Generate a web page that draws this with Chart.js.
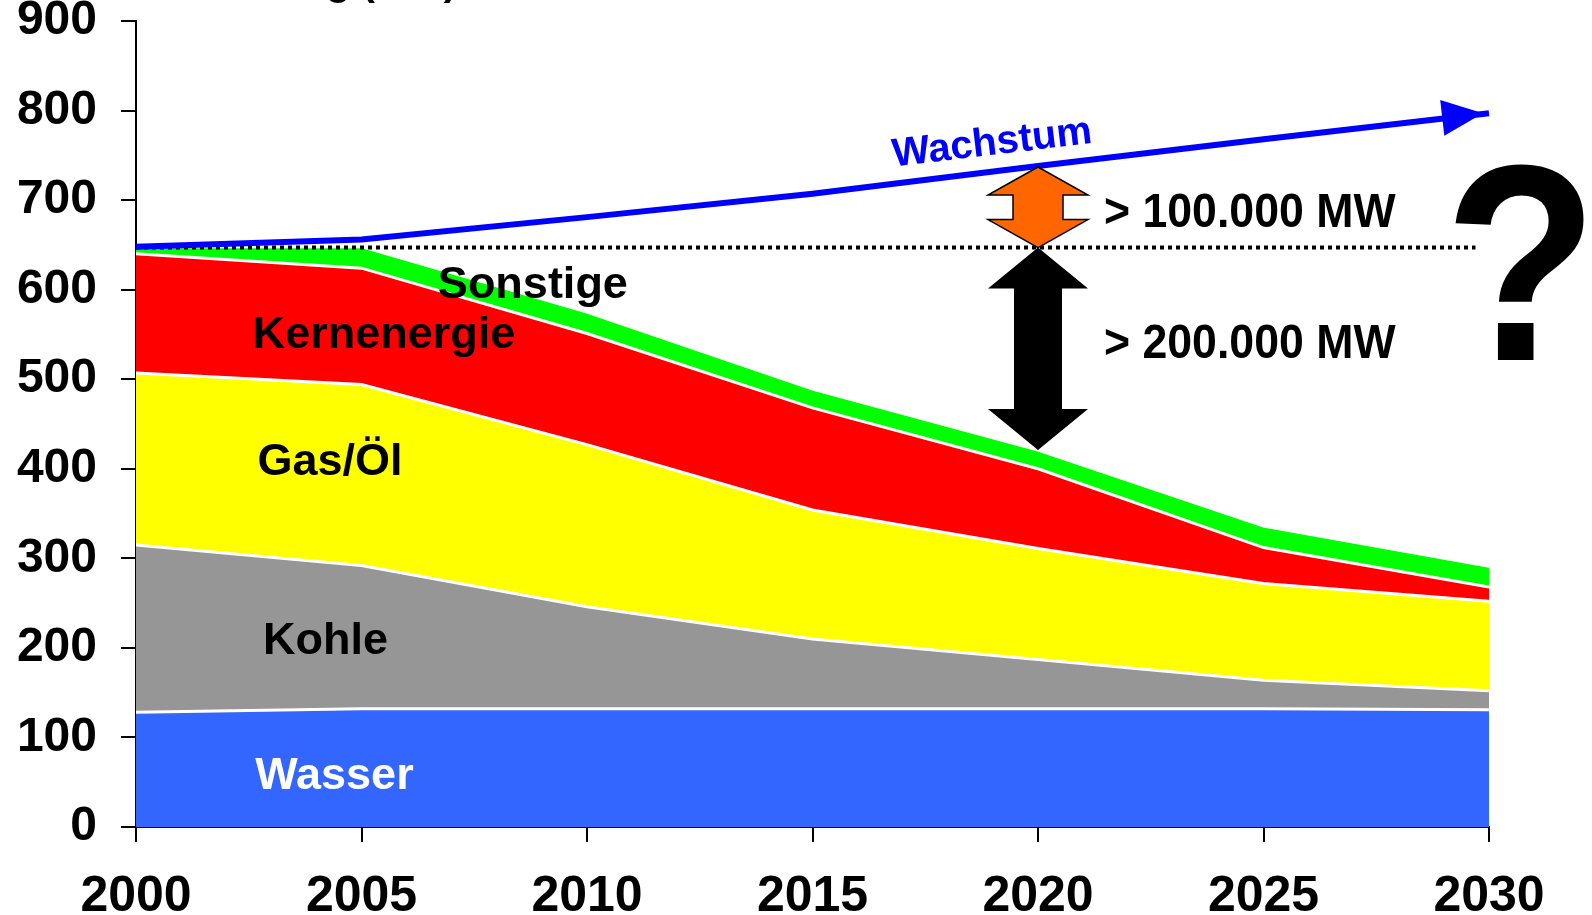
<!DOCTYPE html>
<html>
<head>
<meta charset="utf-8">
<script src="https://cdn.jsdelivr.net/npm/chart.js@4"></script>
<style>
    html, body { margin: 0; padding: 0; background: #fff; }
    canvas { display: block; }
</style>
</head>
<body>
<canvas id="myChart" width="1592" height="915"></canvas>
<script>
// values (GW)
const YEARS = [2000, 2005, 2010, 2015, 2020, 2025, 2030];
const WASSER = [128, 132, 132, 132, 132, 132, 131];
const KOHLE = [187, 160, 114, 78, 55, 32, 21];
const GAS_OEL = [192, 202, 181, 144, 124, 108, 100];
const KERNENERGIE = [133, 130, 124, 114, 89, 40, 16];
const SONSTIGE = [8, 24, 24, 21, 21, 24, 23];
const WACHSTUM = [648, 656, 681, 707, 738, 768, 797];
const REF_YEARS = [2000, 2029.7];
const REF_VALUES = [647, 647];
const Y_TICKS = [0, 100, 200, 300, 400, 500, 600, 700, 800, 900];
const X_TICKS = [2000, 2005, 2010, 2015, 2020, 2025, 2030];
const GAP_YEAR = 2020;
const GAP_GROWTH = [647, 737];   // orange arrow
const GAP_DEFICIT = [421, 647];  // black arrow

const FONT = '"Liberation Sans", Arial, Helvetica, sans-serif';
const BLUE = '#0000ff';

function points(xs, ys) {
    return xs.map((x, i) => ({ x: x, y: ys[i] }));
}

function area(label, values, color, fill) {
    return {
        label: label,
        data: points(YEARS, values),
        backgroundColor: color,
        borderColor: '#ffffff',
        borderWidth: 3,
        fill: fill,
        pointRadius: 0,
        tension: 0
    };
}

function doubleArrow(ctx, cx, top, bottom, headW, shaftW, headLen) {
    ctx.beginPath();
    ctx.moveTo(cx, top);
    ctx.lineTo(cx + headW / 2, top + headLen);
    ctx.lineTo(cx + shaftW / 2, top + headLen);
    ctx.lineTo(cx + shaftW / 2, bottom - headLen);
    ctx.lineTo(cx + headW / 2, bottom - headLen);
    ctx.lineTo(cx, bottom);
    ctx.lineTo(cx - headW / 2, bottom - headLen);
    ctx.lineTo(cx - shaftW / 2, bottom - headLen);
    ctx.lineTo(cx - shaftW / 2, top + headLen);
    ctx.lineTo(cx - headW / 2, top + headLen);
    ctx.closePath();
}

function text(ctx, str, px, py, size, color, align, sx) {
    ctx.save();
    ctx.translate(px, py);
    ctx.scale(sx || 1, 1);
    ctx.font = 'bold ' + size + 'px ' + FONT;
    ctx.fillStyle = color;
    ctx.textAlign = align || 'center';
    ctx.textBaseline = 'middle';
    ctx.fillText(str, 0, 0);
    ctx.restore();
}

const annotations = {
    id: 'annotations',
    afterDatasetsDraw(chart) {
        const ctx = chart.ctx;
        const x = chart.scales.x, y = chart.scales.y;
        ctx.save();

        // arrow head on the growth line
        const n = WACHSTUM.length;
        const x1 = x.getPixelForValue(YEARS[n - 2]), y1 = y.getPixelForValue(WACHSTUM[n - 2]);
        const x2 = x.getPixelForValue(YEARS[n - 1]), y2 = y.getPixelForValue(WACHSTUM[n - 1]);
        const ang = Math.atan2(y2 - y1, x2 - x1);
        ctx.save();
        ctx.translate(x2 - 6, y2);
        ctx.rotate(ang);
        ctx.beginPath();
        ctx.moveTo(0, 0);
        ctx.lineTo(-41, -18);
        ctx.lineTo(-41, 18);
        ctx.closePath();
        ctx.fillStyle = BLUE;
        ctx.fill();
        ctx.restore();

        // "Wachstum" along the line
        const a = x.getPixelForValue(2015), b = y.getPixelForValue(707);
        const textAng = Math.atan2(y2 - b, x2 - a);
        ctx.save();
        ctx.translate(x.getPixelForValue(2018.98), y.getPixelForValue(763));
        ctx.rotate(textAng);
        text(ctx, 'Wachstum', 0, 0, 40, BLUE);
        ctx.restore();

        // gap arrows
        const cx = x.getPixelForValue(GAP_YEAR);
        doubleArrow(ctx, cx, y.getPixelForValue(GAP_DEFICIT[1]), y.getPixelForValue(GAP_DEFICIT[0]), 100, 48, 41);
        ctx.fillStyle = '#000';
        ctx.fill();
        doubleArrow(ctx, cx, y.getPixelForValue(GAP_GROWTH[1]), y.getPixelForValue(GAP_GROWTH[0]), 100, 50, 28);
        ctx.fillStyle = '#ff6600';
        ctx.fill();
        ctx.lineWidth = 1.5;
        ctx.strokeStyle = '#000';
        ctx.stroke();

        text(ctx, '> 100.000 MW', 1104, y.getPixelForValue(685), 48, '#000', 'left', 0.93);
        text(ctx, '> 200.000 MW', 1104, y.getPixelForValue(538), 48, '#000', 'left', 0.93);

        // series names
        text(ctx, 'Sonstige', x.getPixelForValue(2008.8), y.getPixelForValue(604), 45, '#000');
        text(ctx, 'Kernenergie', x.getPixelForValue(2005.5), y.getPixelForValue(549), 45, '#000');
        text(ctx, 'Gas/Öl', x.getPixelForValue(2004.3), y.getPixelForValue(407), 45, '#000');
        text(ctx, 'Kohle', x.getPixelForValue(2004.2), y.getPixelForValue(207), 45, '#000');
        text(ctx, 'Wasser', x.getPixelForValue(2004.4), y.getPixelForValue(56), 45, '#ffffff');

        // big question mark
        ctx.save();
        ctx.translate(1521, 360);
        ctx.scale(0.9, 1);
        ctx.font = 'bold 280px ' + FONT;
        ctx.fillStyle = '#000';
        ctx.textAlign = 'center';
        ctx.textBaseline = 'alphabetic';
        ctx.fillText('?', 0, 0);
        ctx.restore();

        // title, cut off at the top edge
        ctx.font = 'bold 40px ' + FONT;
        ctx.fillStyle = '#000';
        ctx.textAlign = 'right';
        ctx.textBaseline = 'alphabetic';
        ctx.fillText('Leistung (GW)', 457, -5);

        ctx.restore();
    }
};

new Chart(document.getElementById('myChart').getContext('2d'), {
    type: 'line',
    data: {
        datasets: [
            area('Wasser', WASSER, '#3366ff', 'origin'),
            area('Kohle', KOHLE, '#969696', '-1'),
            area('Gas/Öl', GAS_OEL, '#ffff00', '-1'),
            area('Kernenergie', KERNENERGIE, '#ff0000', '-1'),
            area('Sonstige', SONSTIGE, '#00ff00', '-1'),
            {
                label: 'Wachstum',
                data: points(YEARS, WACHSTUM),
                stack: 'growth',
                borderColor: BLUE,
                borderWidth: 6,
                fill: false,
                pointRadius: 0,
                clip: false,
                order: -2
            },
            {
                label: 'Stand 2000',
                data: points(REF_YEARS, REF_VALUES),
                stack: 'ref',
                borderColor: '#000',
                borderWidth: 4,
                borderDash: [4, 4],
                fill: false,
                pointRadius: 0,
                clip: false,
                order: -1
            }
        ]
    },
    options: {
        responsive: false,
        animation: false,
        layout: { padding: { top: 21, right: 103, left: 0, bottom: 0 } },
        plugins: {
            legend: { display: false },
            tooltip: { enabled: false }
        },
        scales: {
            x: {
                type: 'linear',
                min: 2000,
                max: 2030,
                afterBuildTicks: s => { s.ticks = X_TICKS.map(v => ({ value: v })); },
                ticks: {
                    callback: v => String(v),
                    color: '#000',
                    font: { family: FONT, size: 50, weight: 'bold' },
                    padding: 25,
                    maxRotation: 0
                },
                grid: { drawOnChartArea: false, tickLength: 15, color: '#000', lineWidth: 2 },
                border: { color: '#000', width: 2 },
                afterFit: s => { s.height = 88; s.paddingLeft = 0; s.paddingRight = 0; }
            },
            y: {
                stacked: true,
                min: 0,
                max: 900,
                afterBuildTicks: s => { s.ticks = Y_TICKS.map(v => ({ value: v })); },
                ticks: {
                    callback: v => String(v),
                    color: '#000',
                    font: { family: FONT, size: 48, weight: 'bold' },
                    padding: 24
                },
                grid: { drawOnChartArea: false, tickLength: 15, color: '#000', lineWidth: 2 },
                border: { color: '#000', width: 2 },
                afterFit: s => { s.width = 136; s.paddingTop = 0; s.paddingBottom = 0; }
            }
        }
    },
    plugins: [annotations]
});
</script>
</body>
</html>
